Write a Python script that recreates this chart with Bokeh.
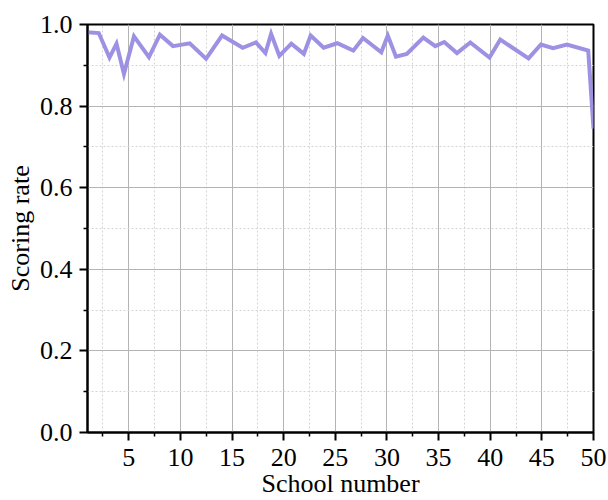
from bokeh.plotting import figure
from bokeh.models import Range1d, FixedTicker, CustomJSTickFormatter
from bokeh.embed import file_html
from bokeh.resources import INLINE

# Data (vertices of the line)
school_number = [1.0, 2.09, 3.13, 3.81, 4.53, 5.50, 6.95, 8.01, 9.28, 10.90,
                 12.48, 14.03, 16.03, 17.31, 18.23, 18.78, 19.58, 20.74, 21.95, 22.61,
                 23.87, 25.19, 26.74, 27.68, 29.45, 30.08, 30.87, 31.92, 33.52, 34.68,
                 35.55, 36.78, 38.07, 39.93, 40.97, 43.71, 44.91, 46.08, 47.43, 49.49,
                 50.0]
scoring_rate = [0.981, 0.979, 0.919, 0.953, 0.879, 0.971, 0.920, 0.975, 0.947, 0.954,
                0.916, 0.973, 0.943, 0.956, 0.930, 0.977, 0.923, 0.953, 0.928, 0.973,
                0.943, 0.954, 0.936, 0.967, 0.932, 0.973, 0.921, 0.928, 0.968, 0.947,
                0.957, 0.930, 0.956, 0.919, 0.963, 0.917, 0.951, 0.942, 0.951, 0.936,
                0.745]

x_major = [5, 10, 15, 20, 25, 30, 35, 40, 45, 50]
x_minor = [2.5, 7.5, 12.5, 17.5, 22.5, 27.5, 32.5, 37.5, 42.5, 47.5]
y_major = [0.0, 0.2, 0.4, 0.6, 0.8, 1.0]
y_minor = [0.1, 0.3, 0.5, 0.7, 0.9]
x_title = "School number"
y_title = "Scoring rate"

FONT = "Liberation Serif"

p = figure(width=608, height=500, output_backend="svg", toolbar_location=None,
           x_range=Range1d(1, 50), y_range=Range1d(0, 1),
           min_border_left=87, min_border_right=15, min_border_top=24, min_border_bottom=67)

p.line(school_number, scoring_rate, line_color="#9d91e3", line_width=4, line_join="miter")

p.xaxis.ticker = FixedTicker(ticks=x_major, minor_ticks=x_minor)
p.yaxis.ticker = FixedTicker(ticks=y_major, minor_ticks=y_minor)
p.yaxis.formatter = CustomJSTickFormatter(code="return tick.toFixed(1);")

for ax in (p.xaxis, p.yaxis):
    ax.axis_line_color = "black"
    ax.axis_line_width = 2
    ax.major_tick_line_color = "black"
    ax.major_tick_line_width = 2
    ax.major_tick_in = 0
    ax.major_tick_out = 8
    ax.minor_tick_line_color = "black"
    ax.minor_tick_line_width = 1.5
    ax.minor_tick_in = 0
    ax.minor_tick_out = 4
    ax.major_label_text_font = FONT
    ax.major_label_text_font_size = "26px"
    ax.major_label_text_color = "black"
    ax.axis_label_text_font = FONT
    ax.axis_label_text_font_size = "26px"
    ax.axis_label_text_font_style = "normal"
    ax.axis_label_text_color = "black"

p.xaxis.axis_label = x_title
p.yaxis.axis_label = y_title
p.xaxis.major_label_standoff = 8
p.yaxis.major_label_standoff = 7
p.xaxis.axis_label_standoff = 0
p.yaxis.axis_label_standoff = 2
p.xaxis.major_label_text_line_height = 0.4
p.xaxis.axis_label_text_line_height = 0.4

for g in (p.xgrid, p.ygrid):
    g.grid_line_color = "#b4b4b4"
    g.grid_line_width = 1
    g.minor_grid_line_color = "#d4d4d4"
    g.minor_grid_line_width = 1
    g.minor_grid_line_dash = "2 2"

p.outline_line_color = "black"
p.outline_line_width = 2
p.background_fill_color = "white"
p.border_fill_color = "white"

open("out.html", "w").write(file_html(p, INLINE))
